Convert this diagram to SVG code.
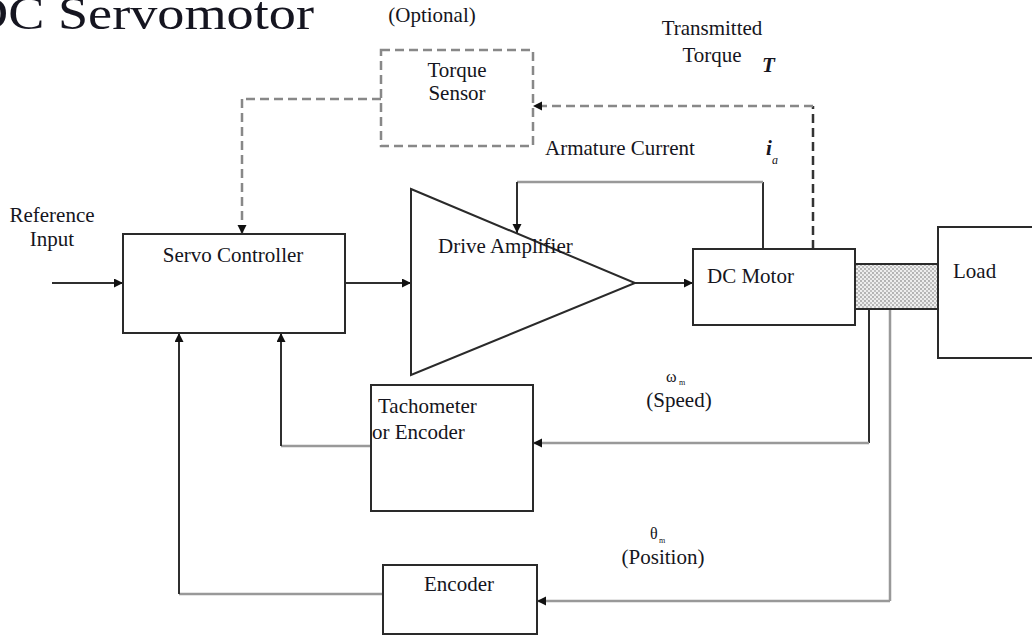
<svg xmlns="http://www.w3.org/2000/svg" width="1032" height="636" viewBox="0 0 1032 636">
<style>
text{font-family:"Liberation Serif","Times New Roman",serif;font-size:21px;fill:#151520}
.c{text-anchor:middle}
.box{fill:#fff;stroke:#2a2a2a;stroke-width:2}
.dbox{fill:#fff;stroke:#888;stroke-width:2.5;stroke-dasharray:9,5}
.dk{stroke:#2f2f2f;stroke-width:2;fill:none}
.gr{stroke:#999;stroke-width:2.5;fill:none}
.dg{stroke:#888;stroke-width:2.5;stroke-dasharray:9,5;fill:none}
.dd{stroke:#333;stroke-width:2.5;stroke-dasharray:9,5;fill:none}
</style>
<defs>
<marker id="ah" markerUnits="userSpaceOnUse" markerWidth="10" markerHeight="10" refX="9" refY="4.5" orient="auto">
<path d="M0,0 L9,4.5 L0,9 z" fill="#111"/>
</marker>
<pattern id="dots" width="4" height="4" patternUnits="userSpaceOnUse">
<rect width="4" height="4" fill="#eee"/>
<circle cx="1" cy="1" r="0.9" fill="#999"/>
<circle cx="3" cy="3" r="0.9" fill="#aaa"/>
</pattern>
</defs>

<g id="title">
<text x="-31" y="29" style="font-size:46px" textLength="345" lengthAdjust="spacingAndGlyphs">DC Servomotor</text>
</g>

<g id="connectors">
<line class="dk" x1="52" y1="283" x2="123" y2="283" marker-end="url(#ah)"/>
<line class="dk" x1="345" y1="283" x2="411" y2="283" marker-end="url(#ah)"/>
<line class="dk" x1="635" y1="283" x2="693" y2="283" marker-end="url(#ah)"/>
<line class="dk" x1="763" y1="249" x2="763" y2="182"/>
<line class="gr" x1="763" y1="182" x2="517" y2="182"/>
<line class="dk" x1="517" y1="182" x2="517" y2="233" marker-end="url(#ah)"/>
<line class="dd" x1="813" y1="249" x2="813" y2="106"/>
<line class="dg" x1="813" y1="106" x2="533" y2="106" marker-end="url(#ah)"/>
<line class="dg" x1="381" y1="99" x2="242" y2="99"/>
<line class="dg" x1="242" y1="99" x2="242" y2="234" marker-end="url(#ah)"/>
<line class="dk" x1="869" y1="309" x2="869" y2="443"/>
<line class="gr" x1="869" y1="443" x2="533" y2="443" marker-end="url(#ah)"/>
<line class="gr" x1="890" y1="309" x2="890" y2="601"/>
<line class="gr" x1="890" y1="601" x2="537" y2="601" marker-end="url(#ah)"/>
<line class="gr" x1="371" y1="446" x2="281" y2="446"/>
<line class="dk" x1="281" y1="446" x2="281" y2="333" marker-end="url(#ah)"/>
<line class="gr" x1="383" y1="594" x2="179" y2="594"/>
<line class="dk" x1="179" y1="594" x2="179" y2="333" marker-end="url(#ah)"/>
</g>

<g id="reference-input">
<text class="c" x="52" y="222">Reference</text>
<text class="c" x="52" y="246">Input</text>
</g>

<g id="servo-controller">
<rect class="box" x="123" y="234" width="222" height="99"/>
<text class="c" x="233" y="262">Servo Controller</text>
</g>

<g id="torque-sensor">
<text class="c" x="432" y="22">(Optional)</text>
<rect class="dbox" x="381" y="50" width="152" height="96"/>
<text class="c" x="457" y="77">Torque</text>
<text class="c" x="457" y="100">Sensor</text>
</g>

<g id="labels-top">
<text class="c" x="712" y="35">Transmitted</text>
<text class="c" x="712" y="62">Torque</text>
<text x="762" y="72" style="font-style:italic;font-weight:bold">T</text>
<text x="545" y="155">Armature Current</text>
<text x="766" y="155" style="font-style:italic;font-weight:bold">i</text>
<text x="772" y="164" style="font-style:italic;font-size:12px">a</text>
</g>

<g id="drive-amplifier">
<polygon class="box" points="411,189 635,283 411,375"/>
<text x="438" y="253">Drive Amplifier</text>
</g>

<g id="dc-motor">
<rect class="box" x="693" y="249" width="162" height="76"/>
<text x="707" y="283">DC Motor</text>
</g>

<g id="shaft">
<rect x="855" y="264" width="83" height="45" fill="url(#dots)" stroke="#2a2a2a" stroke-width="2"/>
</g>

<g id="load">
<rect class="box" x="938" y="227" width="110" height="131"/>
<text x="953" y="278">Load</text>
</g>

<g id="speed-label">
<text x="666" y="382" style="font-size:16px">ω</text>
<text x="679" y="385" style="font-size:8px">m</text>
<text class="c" x="679" y="407">(Speed)</text>
</g>

<g id="tachometer">
<rect class="box" x="371" y="385" width="162" height="126"/>
<text x="378" y="413">Tachometer</text>
<text x="372" y="439">or Encoder</text>
</g>

<g id="position-label">
<text x="650" y="539" style="font-size:16px">θ</text>
<text x="659" y="543" style="font-size:8px">m</text>
<text class="c" x="663" y="564">(Position)</text>
</g>

<g id="encoder">
<rect class="box" x="383" y="565" width="154" height="69"/>
<text class="c" x="459" y="591">Encoder</text>
</g>
</svg>
